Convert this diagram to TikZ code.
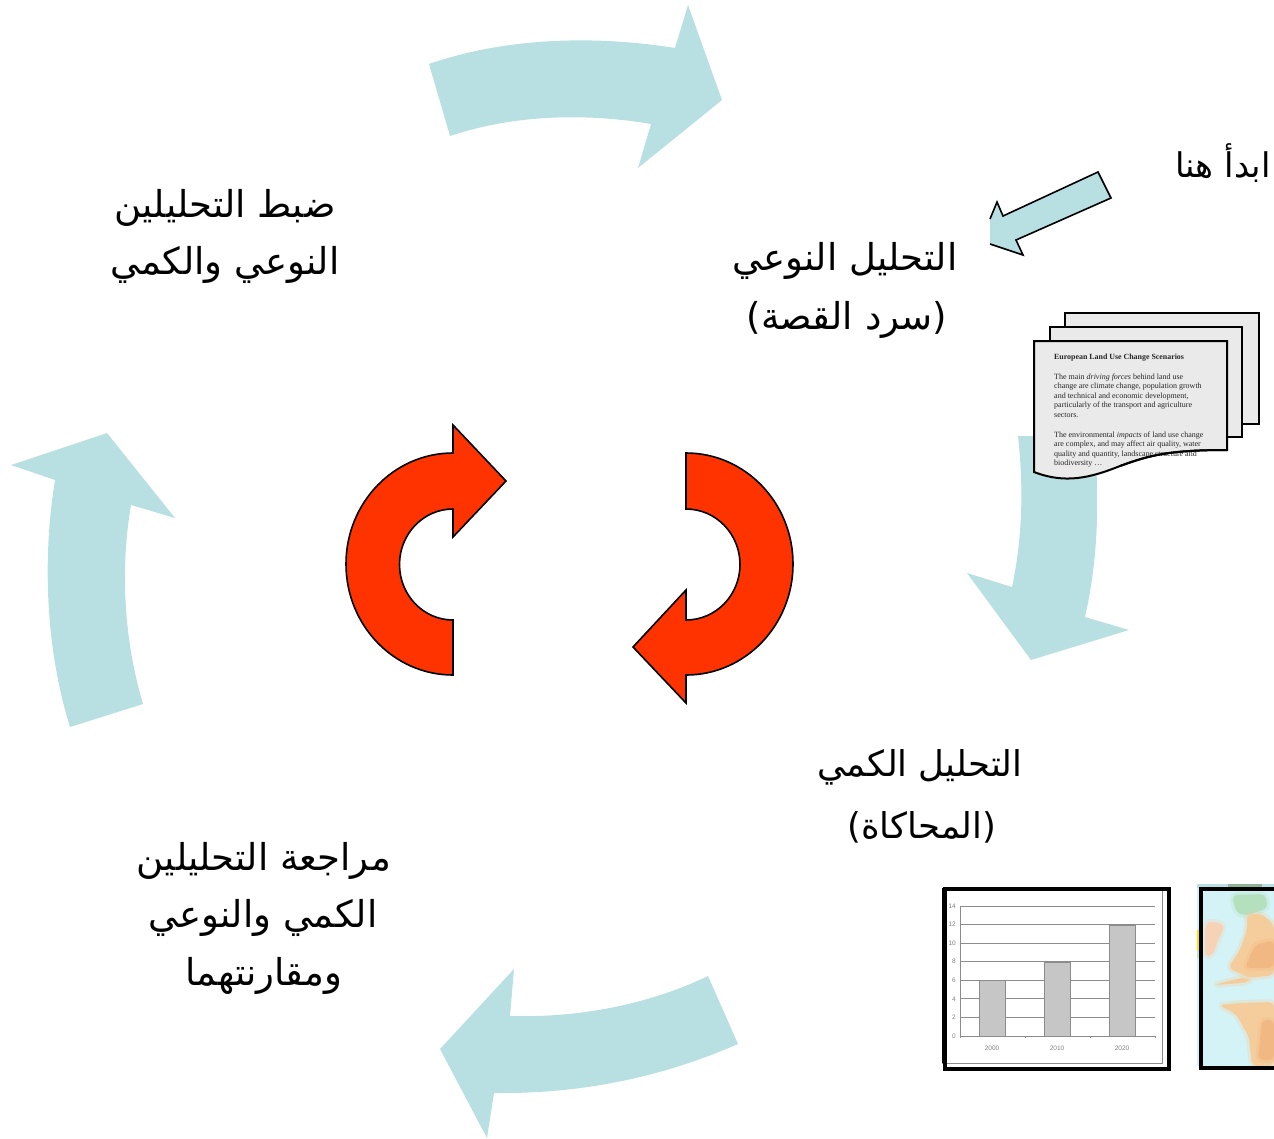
\documentclass[tikz,border=0pt]{standalone}
\usepackage{fontspec}
\setmainfont{Liberation Serif}
\newfontfamily\arabicfont[Script=Arabic]{DejaVu Sans}
\newfontfamily\sansf{Liberation Sans}
\TeXXeTstate=1
\definecolor{teal1}{HTML}{B8DFE2}
\definecolor{redarrow}{HTML}{FF3300}
\definecolor{pagegray}{HTML}{EAEAEA}
\definecolor{bargray}{HTML}{C6C6C6}
\definecolor{linegray}{HTML}{8C8C8C}
\definecolor{mapsea}{HTML}{D4F3F7}
\definecolor{mapland}{HTML}{F5CD9C}
\definecolor{mapdeep}{HTML}{F2B884}
\definecolor{mapgreen}{HTML}{B4E0BE}
\definecolor{mappink}{HTML}{F6D3B6}
\tikzset{
  cyclearrow/.style={fill=teal1,draw=none},
  turnarrow/.style={fill=redarrow,draw=black,line width=1.6pt,line join=miter},
  page/.style={fill=pagegray,draw=black,line width=2pt,line join=miter},
  artext/.style={font=\arabicfont\fontsize{37}{42}\selectfont,anchor=center,inner sep=0pt},
  doctext/.style={font=\fontsize{8}{9}\selectfont,anchor=west,inner sep=0pt,text=black!85},
  ticklabel/.style={font=\sansf\fontsize{6.5}{7}\selectfont,text=gray,inner sep=0pt},
  soft/.style={draw=#1,fill=#1,line width=6pt,draw opacity=.3,line join=round,rounded corners=5pt},
}
\newcommand{\artxt}[1]{\beginR #1\endR}
\begin{document}
\begin{tikzpicture}[x=1pt,y=-1pt]
\useasboundingbox (0,0) rectangle (1274,1138);
% cycle arrows
\fill[cyclearrow] (429,64) .. controls (510,36) and (600,36) .. (675,48) -- (688,5) -- (722,100) -- (638,168) -- (651,124) .. controls (580,112) and (510,116) .. (450,136) -- cycle;
\fill[cyclearrow] (1018,436) .. controls (1024,490) and (1022,540) .. (1012,587) -- (967,573) -- (1031,660) -- (1129,630) -- (1085,617) .. controls (1098,560) and (1100,500) .. (1094,436) -- cycle;
\fill[cyclearrow] (738,1044) .. controls (660,1078) and (580,1094) .. (494,1093) -- (487,1138) -- (440,1049) -- (514,969) -- (510,1016) .. controls (580,1018) and (650,1004) .. (708,976) -- cycle;
\fill[cyclearrow] (143,704) -- (70,727) .. controls (46,650) and (42,560) .. (55,480) -- (11,465) -- (107,433) -- (175,518) -- (131,505) .. controls (120,570) and (124,640) .. (143,704) -- cycle;
% red arrows
\draw[turnarrow] (453,453) arc[start angle=-90,end angle=-270,x radius=107,y radius=111] -- (453,620) arc[start angle=90,end angle=270,x radius=53.5,y radius=55.5] -- (453,537) -- (506,481) -- (453,425) -- cycle;
\draw[turnarrow] (686,453) arc[start angle=-90,end angle=90,x radius=107,y radius=111] -- (686,703) -- (633,647) -- (686,590) -- (686,620) arc[start angle=90,end angle=-90,x radius=54,y radius=55.5] -- cycle;
% start arrow
\fill[teal1] (990,219) -- (997,202) -- (1003,216) -- (1098,172) -- (1111,198) -- (1016,240) -- (1023,255) -- (990,244) -- cycle;
\draw[line width=1.6pt,line join=miter] (990,219) -- (997,202) -- (1003,216) -- (1098,172) -- (1111,198) -- (1016,240) -- (1023,255) -- (990,244);
% labels
\node[artext] (a1) at (225,208) {\artxt{ضبط التحليلين}};
\node[artext] (a2) at (225,265) {\artxt{النوعي والكمي}};
\node[artext] (b1) at (845,261) {\artxt{التحليل النوعي}};
\node[artext] (b2) at (847,320) {\artxt{(سرد القصة)}};
\node[artext,font=\arabicfont\fontsize{35.5}{40}\selectfont] (c1) at (920,767) {\artxt{التحليل الكمي}};
\node[artext,font=\arabicfont\fontsize{35.5}{40}\selectfont] (c2) at (922,827) {\artxt{(المحاكاة)}};
\node[artext] (d1) at (264,861) {\artxt{مراجعة التحليلين}};
\node[artext] (d2) at (263,918) {\artxt{الكمي والنوعي}};
\node[artext] (d3) at (264,976) {\artxt{ومقارنتهما}};
\node[artext,font=\arabicfont\fontsize{34}{38}\selectfont] (s) at (1223,163) {\artxt{ابدأ هنا}};
% document
\draw[page] (1065,313) rectangle (1259,424);
\draw[page] (1050,327) rectangle (1242,437);
\draw[page] (1034,341) -- (1227,341) -- (1227,450) .. controls (1170,450) and (1150,455) .. (1120,466) .. controls (1090,478) and (1065,484) .. (1034,472) -- cycle;
\node[doctext,font=\bfseries\fontsize{7.9}{9}\selectfont] (t0) at (1054,357.5) {European Land Use Change Scenarios};
\node[doctext] (t1) at (1054,377.5) {The main \textit{driving forces} behind land use};
\node[doctext] (t2) at (1054,387) {change are climate change, population growth};
\node[doctext] (t3) at (1054,396.5) {and technical and economic development,};
\node[doctext] (t4) at (1054,406) {particularly of the transport and agriculture};
\node[doctext] (t5) at (1054,415) {sectors.};
\node[doctext] (t6) at (1054,435.5) {The environmental \textit{impacts} of land use change};
\node[doctext] (t7) at (1054,444.5) {are complex, and may affect air quality, water};
\node[doctext] (t8) at (1054,454.5) {quality and quantity, landscape structure and};
\node[doctext] (t9) at (1054,463.5) {biodiversity \ldots};
\draw[line width=2pt] (1227,450) .. controls (1170,450) and (1150,455) .. (1120,466);
% chart
\draw[line width=0.8pt,draw=linegray] (944,888) -- (1162,888) -- (1162,1063) -- (942,1063);
\draw[line width=1pt] (942,888) -- (942,1063);
\foreach \v in {0,2,...,14}{
  \pgfmathsetmacro\yy{1036-\v*9.286}
  \draw[linegray,line width=0.8pt] (960,\yy) -- (1155,\yy);
  \node[ticklabel,anchor=east] (tick\v) at (956,\yy) {\v};
}
\draw[linegray,line width=0.7pt] (960,906) -- (960,1038) (1025,1036) -- (1025,1038) (1090,1036) -- (1090,1038) (1155,1036) -- (1155,1038);
\draw[fill=bargray,draw=linegray,line width=0.8pt] (979,1036) rectangle (1005,980);
\draw[fill=bargray,draw=linegray,line width=0.8pt] (1044,1036) rectangle (1070,962);
\draw[fill=bargray,draw=linegray,line width=0.8pt] (1109,1036) rectangle (1135,925);
\node[ticklabel] (y1) at (992,1048) {2000};
\node[ticklabel] (y2) at (1057,1048) {2010};
\node[ticklabel] (y3) at (1122,1048) {2020};
\draw[line width=3.2pt] (945,889) rectangle (1169,1069);
% map
\fill[mapsea] (1197,884) rectangle (1274,1066);
\fill[teal1] (1197,884) rectangle (1274,888);
\fill[mapgreen!80!black] (1228,884) rectangle (1262,888);
\fill[yellow!85!orange] (1197,930) rectangle (1200,950);
\fill[mapgreen,opacity=.7] (1197,950) rectangle (1200,958);
\begin{scope}
\clip (1197,884) rectangle (1274,1066);
\path[soft=mappink] (1205,924) -- (1212,921) -- (1225,925) -- (1216,945) -- (1213,955) -- (1205,957) -- cycle;
\path[soft=mapgreen] (1232,895) -- (1265,894) -- (1268,908) -- (1245,916) -- (1236,912) -- cycle;
\path[soft=mapland] (1247,914) -- (1262,914) -- (1274,925) -- (1274,975) -- (1250,978) -- (1228,968) -- (1240,950) -- (1247,930) -- cycle;
\path[soft=mapland] (1247,977) -- (1228,981) -- (1214,985) -- (1230,984) -- (1250,982) -- cycle;
\path[soft=mapland] (1219,1005) -- (1240,1003) -- (1274,1002) -- (1274,1066) -- (1252,1066) -- (1249,1037) -- (1236,1014) -- cycle;
\path[soft=mapdeep] (1262,1020) -- (1274,1020) -- (1274,1060) -- (1258,1060) -- cycle;
\path[soft=mapdeep] (1255,945) -- (1274,940) -- (1274,968) -- (1245,968) -- cycle;
\end{scope}
\draw[line width=3.2pt] (1274,889) -- (1201,889) -- (1201,1068) -- (1274,1068);
\end{tikzpicture}
\end{document}
